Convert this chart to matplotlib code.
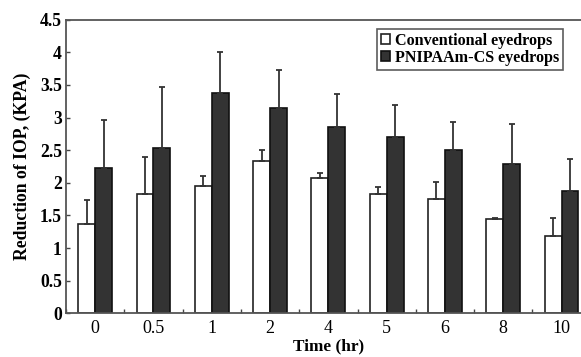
import matplotlib
matplotlib.use("Agg")
import matplotlib.pyplot as plt
import numpy as np

categories = ["0", "0.5", "1", "2", "4", "5", "6", "8", "10"]
conventional = [1.37, 1.83, 1.95, 2.34, 2.07, 1.83, 1.75, 1.44, 1.19]
conventional_err = [0.36, 0.57, 0.15, 0.16, 0.08, 0.11, 0.27, 0.015, 0.27]
pnipaam = [2.22, 2.54, 3.38, 3.15, 2.86, 2.70, 2.51, 2.29, 1.88]
pnipaam_err = [0.75, 0.93, 0.62, 0.58, 0.50, 0.49, 0.42, 0.61, 0.49]
yticks = [0, 0.5, 1, 1.5, 2, 2.5, 3, 3.5, 4, 4.5]
ytick_labels = ["0", "0.5", "1", "1.5", "2", "2.5", "3", "3.5", "4", "4.5"]

serif = "Liberation Serif"
fig = plt.figure(figsize=(5.81, 3.57), dpi=100)
W, H = 581, 357
x0, x1 = 66, 590.7
y0, y1 = 313.3, 19.7
ax = fig.add_axes([x0 / W, 1 - y0 / H, (x1 - x0) / W, (y0 - y1) / H])

x = np.arange(len(categories))
bw = 0.29
ek = dict(ecolor="#333333", elinewidth=1.3, capsize=2.5, capthick=1.3)
ax.bar(x - bw / 2, conventional, bw, color="white", edgecolor="#222222", linewidth=1.2,
       yerr=[np.zeros(len(x)), conventional_err], error_kw=ek, label="Conventional eyedrops")
ax.bar(x + bw / 2, pnipaam, bw, color="#333333", edgecolor="#111111", linewidth=1.2,
       yerr=[np.zeros(len(x)), pnipaam_err], error_kw=ek, label="PNIPAAm-CS eyedrops")

ax.set_xlim(-0.5, len(categories) - 0.5)
ax.set_ylim(0, 4.5)
ax.set_yticks(yticks)
ax.set_yticklabels(ytick_labels, fontfamily=serif, fontweight="bold", fontsize=12.7)
ax.set_xticks(x)
ax.set_xticklabels(categories, fontfamily=serif, fontsize=13)
ax.set_xticks(np.arange(len(categories) + 1) - 0.5, minor=True)
ax.tick_params(axis="x", which="major", length=0, pad=5)
ax.tick_params(axis="x", which="minor", direction="in", length=3, width=1, color="#444444")
ax.tick_params(axis="y", direction="in", length=3, width=1, color="#444444", pad=3)
for s in ["left", "bottom", "top", "right"]:
    ax.spines[s].set_color("#555555")
    ax.spines[s].set_linewidth(1.3)

ax.set_xlabel("Time (hr)", fontfamily=serif, fontweight="bold", fontsize=12.4, labelpad=0.5)
ax.set_ylabel("Reduction of IOP, (KPA)", fontfamily=serif, fontweight="bold", fontsize=12.7, labelpad=6)

leg = ax.legend(loc="upper right", bbox_to_anchor=(563 / W, 1 - 29 / H), bbox_transform=fig.transFigure,
                prop={"family": serif, "weight": "bold", "size": 11.6}, frameon=True, fancybox=False,
                handlelength=0.55, handleheight=0.55, handletextpad=0.3, borderpad=0.25,
                labelspacing=0.05, borderaxespad=0)
leg.get_frame().set_edgecolor("#333333")
leg.get_frame().set_linewidth(1.2)

fig.savefig("out.png", dpi=100)
